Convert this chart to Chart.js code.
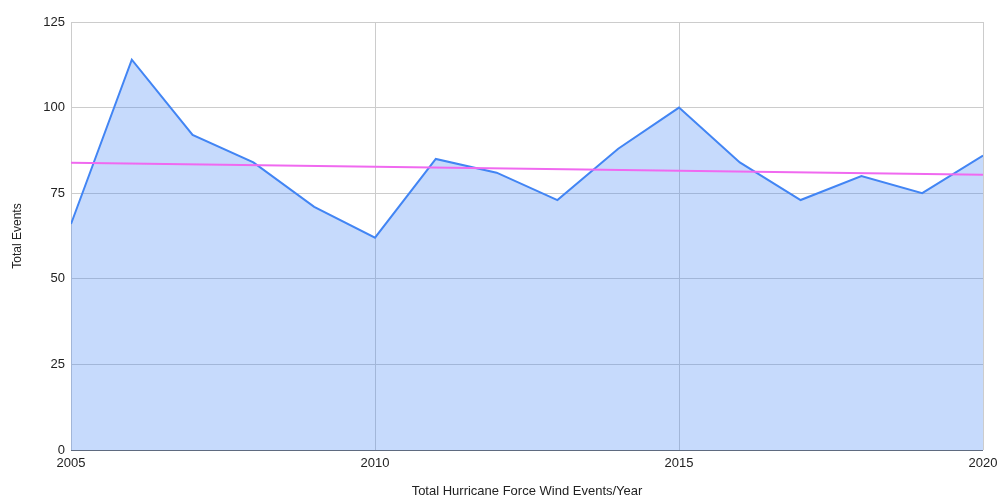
<!DOCTYPE html>
<html lang="en">
<head>
    <meta charset="UTF-8">
    <title>Total Hurricane Force Wind Events/Year</title>
    <script src="https://cdn.jsdelivr.net/npm/chart.js"></script>
    <style>
        html, body { margin: 0; padding: 0; background: #fff; }
        #wrap { width: 1000px; height: 496px; }
    </style>
</head>
<body>
<div id="wrap">
    <canvas id="windChart" width="1000" height="496"></canvas>
</div>
<script>
    // Data
    const years = [2005, 2006, 2007, 2008, 2009, 2010, 2011, 2012, 2013, 2014, 2015, 2016, 2017, 2018, 2019, 2020];
    const totalEvents = [66, 114, 92, 84, 71, 62, 85, 81, 73, 88, 100, 84, 73, 80, 75, 86];
    const trendYears = [2005, 2020];
    const trendValues = [83.9, 80.4];
    const yTicks = [0, 25, 50, 75, 100, 125];
    const xTicks = [2005, 2010, 2015, 2020];

    const font = "Arial, 'Liberation Sans', sans-serif";

    const ctx = document.getElementById('windChart').getContext('2d');
    const windChart = new Chart(ctx, {
        type: 'line',
        data: {
            datasets: [{
                label: 'Trend',
                data: trendYears.map((y, i) => ({ x: y, y: trendValues[i] })),
                borderColor: 'rgb(240, 105, 240)',
                borderWidth: 2,
                pointRadius: 0,
                fill: false,
                order: 0
            }, {
                label: 'Total Events',
                data: years.map((y, i) => ({ x: y, y: totalEvents[i] })),
                borderColor: '#4285F4',
                backgroundColor: 'rgba(66, 133, 244, 0.3)',
                borderWidth: 2,
                pointRadius: 0,
                tension: 0,
                fill: 'origin',
                order: 1
            }]
        },
        options: {
            responsive: false,
            animation: false,
            layout: { padding: { top: 22, right: 17, left: 0, bottom: 0 } },
            plugins: {
                legend: { display: false },
                tooltip: { enabled: false }
            },
            scales: {
                x: {
                    type: 'linear',
                    min: 2005,
                    max: 2020,
                    afterBuildTicks: (scale) => { scale.ticks = xTicks.map(v => ({ value: v })); },
                    afterFit: (scale) => {
                        scale.height = 46;
                        scale.paddingLeft = 0;
                        scale.paddingRight = 0;
                    },
                    grid: { color: '#cccccc', drawTicks: false },
                    border: { display: false },
                    ticks: {
                        padding: 6,
                        maxRotation: 0,
                        color: '#222',
                        font: { family: font, size: 13 },
                        callback: (v) => String(v)
                    },
                    title: {
                        display: true,
                        text: 'Total Hurricane Force Wind Events/Year',
                        color: '#222',
                        font: { family: font, size: 13 },
                        padding: { top: 12, bottom: -3 }
                    }
                },
                y: {
                    min: 0,
                    max: 125,
                    afterBuildTicks: (scale) => { scale.ticks = yTicks.map(v => ({ value: v })); },
                    afterFit: (scale) => {
                        scale.width = 71;
                        scale.paddingTop = 0;
                        scale.paddingBottom = 0;
                    },
                    grid: {
                        color: (c) => c.tick && c.tick.value === 0 ? '#5f6b80' : '#cccccc',
                        drawTicks: false
                    },
                    border: { display: false },
                    ticks: {
                        padding: 6,
                        color: '#222',
                        font: { family: font, size: 13 }
                    },
                    title: {
                        display: true,
                        text: 'Total Events',
                        color: '#222',
                        font: { family: font, size: 12 },
                        padding: { top: 10, bottom: 0 }
                    }
                }
            }
        }
    });
</script>
</body>
</html>
